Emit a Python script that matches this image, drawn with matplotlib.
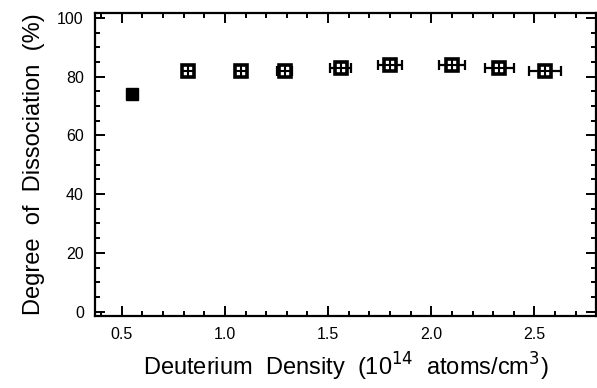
import matplotlib
matplotlib.use("Agg")
import matplotlib.pyplot as plt
from matplotlib.ticker import MultipleLocator

plt.rcParams['font.family'] = ['Liberation Sans', 'DejaVu Sans']

# first point: filled square, no error bar
x_first = [0.55]
y_first = [74]

density = [0.82, 1.08, 1.29, 1.56, 1.80, 2.10, 2.33, 2.55]
dissociation = [82, 82, 82, 83, 84, 84, 83, 82]
density_err = [0.0, 0.02, 0.036, 0.05, 0.056, 0.064, 0.07, 0.078]

xticks = [0.5, 1.0, 1.5, 2.0, 2.5]
yticks = [0, 20, 40, 60, 80, 100]

fig = plt.figure(figsize=(5.97, 3.88), dpi=100)
ax = fig.add_axes([0.159, 0.1856, 0.84, 0.781])

ax.errorbar(density, dissociation, xerr=density_err, fmt='none', ecolor='black',
            elinewidth=1.6, capsize=3.5, capthick=1.6, zorder=2)
ax.plot(density, dissociation, linestyle='none', marker='s', markersize=8,
        markerfacecolor='white', markeredgecolor='black', markeredgewidth=2.6, zorder=3)
ax.plot(density, dissociation, linestyle='none', marker='+', markersize=6.5,
        markeredgecolor='black', markeredgewidth=1.5, zorder=4)
ax.plot(x_first, y_first, linestyle='none', marker='s', markersize=8,
        color='black', zorder=3)

ax.set_xlim(0.37, 2.8)
ax.set_ylim(-1.5, 101.7)
ax.set_xticks(xticks)
ax.set_xticklabels([f"{v:.1f}" for v in xticks])
ax.set_yticks(yticks)
ax.set_yticklabels([str(v) for v in yticks])
ax.xaxis.set_minor_locator(MultipleLocator(0.1))
ax.yaxis.set_minor_locator(MultipleLocator(5))

ax.tick_params(which='both', direction='in', top=True, right=True, width=1.4,
               labelsize=11.5, pad=8)
ax.tick_params(which='major', length=7)
ax.tick_params(which='minor', length=3.5)
for s in ax.spines.values():
    s.set_linewidth(1.6)

ax.set_xlabel("Deuterium  Density  (10$^{14}$  atoms/cm$^{3}$)", fontsize=17, labelpad=6)
ax.set_ylabel("Degree  of  Dissociation  (%)", fontsize=17, labelpad=9)

fig.savefig("out.png", dpi=100)
